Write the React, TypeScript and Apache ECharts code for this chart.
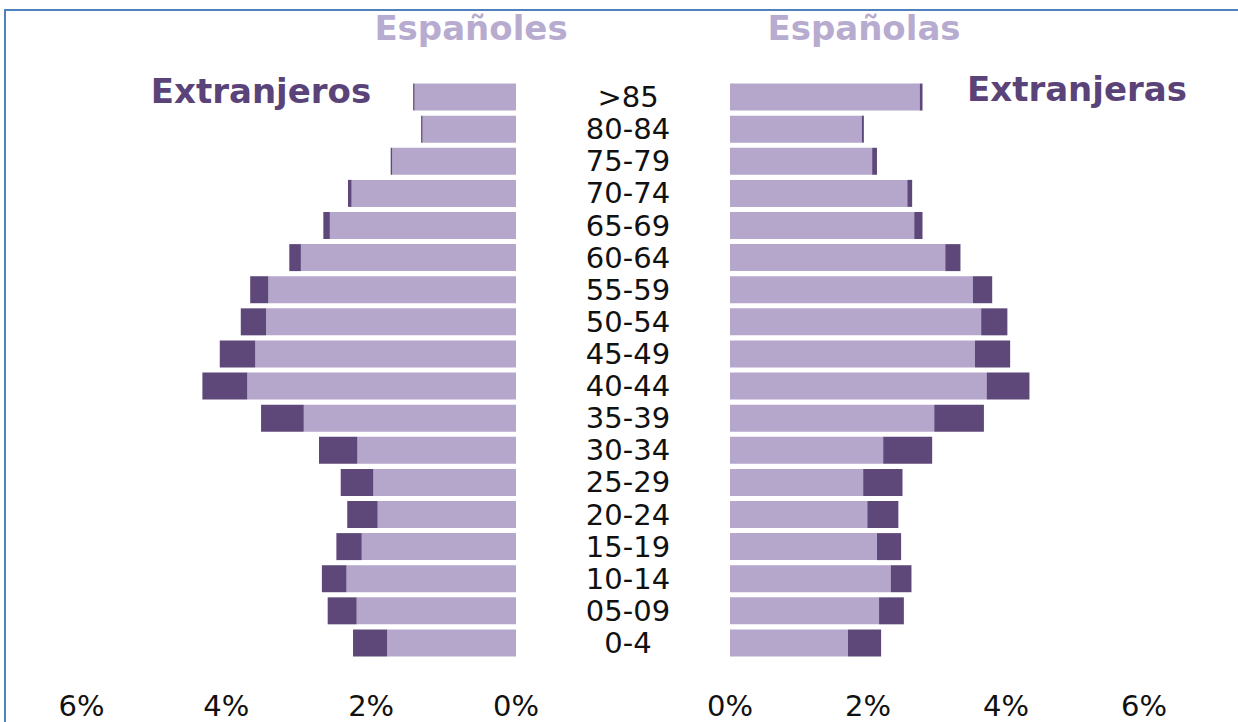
import React, { useEffect, useRef } from 'react';
import * as echarts from 'echarts';

const ageGroups = ['0-4', '05-09', '10-14', '15-19', '20-24', '25-29', '30-34', '35-39', '40-44', '45-49', '50-54', '55-59', '60-64', '65-69', '70-74', '75-79', '80-84', '>85'];
const espanoles = [1.78, 2.2, 2.34, 2.13, 1.91, 1.97, 2.19, 2.93, 3.71, 3.6, 3.45, 3.42, 2.97, 2.57, 2.27, 1.71, 1.29, 1.4];
const extranjeros = [0.47, 0.4, 0.34, 0.35, 0.42, 0.45, 0.53, 0.59, 0.62, 0.49, 0.35, 0.25, 0.16, 0.09, 0.05, 0.02, 0.02, 0.02];
const espanolas = [1.71, 2.16, 2.33, 2.13, 1.99, 1.93, 2.22, 2.96, 3.72, 3.55, 3.64, 3.52, 3.12, 2.67, 2.57, 2.06, 1.91, 2.75];
const extranjeras = [0.48, 0.36, 0.3, 0.35, 0.45, 0.57, 0.71, 0.72, 0.62, 0.51, 0.38, 0.28, 0.22, 0.12, 0.07, 0.07, 0.03, 0.04];
const percentTicks = ['0%', '2%', '4%', '6%'];

const LIGHT = '#b4a7cb';
const DARK = '#5e487a';
const FONT = 'DejaVu Sans';

export default function App() {
  const ref = useRef<HTMLDivElement>(null);
  useEffect(() => {
    if (!ref.current) return;
    const chart = echarts.init(ref.current, undefined, { renderer: 'svg' });
    const pctLabel = (v: number) => (v % 2 === 0 && v <= 6 ? percentTicks[v / 2] : '');
    const xAxisBase = {
      type: 'value',
      min: 0,
      max: 7,
      interval: 2,
      splitLine: { show: false },
      axisLine: { show: false },
      axisTick: { show: false },
      axisLabel: { formatter: pctLabel, fontSize: 29, lineHeight: 28, color: '#111', fontFamily: FONT, margin: 33 },
    };
    const titleStyle = (color: string) => ({ color, fontSize: 34, fontWeight: 'bold', fontFamily: FONT });
    chart.setOption({
      animation: false,
      backgroundColor: '#ffffff',
      title: [
        { text: 'Españoles', left: 471, top: 11, padding: 0, textAlign: 'center', textStyle: titleStyle('#b8abd0') },
        { text: 'Españolas', left: 864, top: 11, padding: 0, textAlign: 'center', textStyle: titleStyle('#b8abd0') },
        { text: 'Extranjeros', left: 261, top: 74, padding: 0, textAlign: 'center', textStyle: titleStyle('#5a4378') },
        { text: 'Extranjeras', left: 1077, top: 72, padding: 0, textAlign: 'center', textStyle: titleStyle('#5a4378') },
      ],
      graphic: [
        { type: 'rect', silent: true, shape: { x: 5, y: 10, width: 1300, height: 800 }, style: { fill: 'none', stroke: '#4f81bd', lineWidth: 2 } },
      ],
      grid: [
        { left: 9, width: 507, top: 81, height: 578 },
        { left: 730, width: 483, top: 81, height: 578 },
      ],
      xAxis: [
        { ...xAxisBase, gridIndex: 0, inverse: true },
        { ...xAxisBase, gridIndex: 1 },
      ],
      yAxis: [
        { gridIndex: 0, type: 'category', data: ageGroups, axisLine: { show: false }, axisTick: { show: false }, axisLabel: { show: false } },
        {
          gridIndex: 1, type: 'category', data: ageGroups, axisLine: { show: false }, axisTick: { show: false },
          axisLabel: { show: true, interval: 0, margin: 102, align: 'center', verticalAlign: 'middle', fontSize: 29, lineHeight: 26, color: '#111', fontFamily: FONT },
        },
      ],
      series: [
        { type: 'bar', name: 'Españoles', xAxisIndex: 0, yAxisIndex: 0, stack: 'h', data: espanoles, barWidth: 27, itemStyle: { color: LIGHT } },
        { type: 'bar', name: 'Extranjeros', xAxisIndex: 0, yAxisIndex: 0, stack: 'h', data: extranjeros, barWidth: 27, itemStyle: { color: DARK } },
        { type: 'bar', name: 'Españolas', xAxisIndex: 1, yAxisIndex: 1, stack: 'm', data: espanolas, barWidth: 27, itemStyle: { color: LIGHT } },
        { type: 'bar', name: 'Extranjeras', xAxisIndex: 1, yAxisIndex: 1, stack: 'm', data: extranjeras, barWidth: 27, itemStyle: { color: DARK } },
      ],
    });
    return () => chart.dispose();
  }, []);
  return <div ref={ref} style={{ position: 'absolute', left: 0, top: 0, width: 1238, height: 722, background: '#fff' }} />;
}
